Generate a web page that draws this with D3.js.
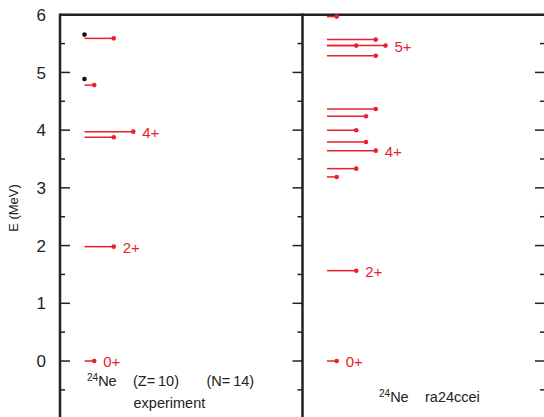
<!DOCTYPE html>
<html>
<head>
<meta charset="utf-8">
<title>24Ne levels</title>
<script src="https://cdnjs.cloudflare.com/ajax/libs/d3/7.8.5/d3.min.js"></script>
<style>
body { margin: 0; background: #fff; }
text { font-family: "Liberation Sans", Arial, sans-serif; }
</style>
</head>
<body>
<svg id="chart" width="544" height="417"></svg>
<script>
// experiment levels (MeV) and spins
var expE = [0, 1.981, 3.877, 3.974, 4.78, 5.59];
var expJ = [0, 2, 2, 4, 0, 2];
var expLabel = ["0+", "2+", "", "4+", "", ""];
// levels with unknown spin (black dots)
var expUnknownE = [4.887, 5.655];

// calculation ra24ccei
var thE = [0, 1.565, 3.189, 3.333, 3.645, 3.795, 3.998, 4.24, 4.367, 5.29, 5.465, 5.465, 5.569, 5.967];
var thJ = [0, 2, 0, 2, 4, 3, 2, 3, 4, 4, 2, 5, 4, 0];
var thLabel = ["0+", "2+", "", "", "4+", "", "", "", "", "", "", "5+", "", ""];

var yTicks = [0, 1, 2, 3, 4, 5, 6];
var yMinor = [-0.5, 0.5, 1.5, 2.5, 3.5, 4.5, 5.5];

var red = "#e8202b";
var svg = d3.select("#chart");

var y = d3.scaleLinear().domain([-0.97, 6]).range([417, 14.7]);
var panels = d3.scaleLinear().domain([0, 1]).range([60, 302.5]); // left edge of panel i
var len = d3.scaleLinear().domain([-1, 5]).range([0, 58.5]);     // level length from spin
var x0 = 24.5;

// ticks
function ticks(xpos, dir) {
    svg.append("g").selectAll("line.maj").data(yTicks).enter().append("line")
        .attr("x1", xpos).attr("x2", xpos + dir * 10)
        .attr("y1", function (d) { return y(d); }).attr("y2", function (d) { return y(d); })
        .attr("stroke", "#222").attr("stroke-width", 1.5);
    svg.append("g").selectAll("line.min").data(yMinor).enter().append("line")
        .attr("x1", xpos).attr("x2", xpos + dir * 5)
        .attr("y1", function (d) { return y(d); }).attr("y2", function (d) { return y(d); })
        .attr("stroke", "#222").attr("stroke-width", 1.5);
}
ticks(panels(0), 1);
ticks(panels(1), -1);
ticks(panels(2), -1);

// frame
svg.append("line").attr("x1", panels(0)).attr("x2", 544).attr("y1", y(6)).attr("y2", y(6))
    .attr("stroke", "#222").attr("stroke-width", 2.5);
[0, 1].forEach(function (i) {
    svg.append("line").attr("x1", panels(i)).attr("x2", panels(i))
        .attr("y1", y(6) - 1.2).attr("y2", 417)
        .attr("stroke", "#222").attr("stroke-width", 2.5);
});

// tick labels
svg.append("g").selectAll("text").data(yTicks).enter().append("text")
    .attr("x", 46).attr("y", function (d) { return y(d); })
    .attr("dy", "0.36em").attr("text-anchor", "end")
    .attr("font-size", 17).attr("fill", "#222")
    .text(function (d) { return d; });

svg.append("text")
    .attr("transform", "translate(18," + 208 + ") rotate(-90)")
    .attr("text-anchor", "middle").attr("font-size", 13).attr("fill", "#222")
    .text("E (MeV)");

function levels(E, J, labels, panel) {
    var left = panels(panel) + x0;
    var g = svg.append("g");
    g.selectAll("line").data(E).enter().append("line")
        .attr("x1", left)
        .attr("x2", function (d, i) { return left + len(J[i]); })
        .attr("y1", function (d) { return y(d); })
        .attr("y2", function (d) { return y(d); })
        .attr("stroke", red).attr("stroke-width", 1.5);
    g.selectAll("circle").data(E).enter().append("circle")
        .attr("cx", function (d, i) { return left + len(J[i]); })
        .attr("cy", function (d) { return y(d); })
        .attr("r", 2.3).attr("fill", red);
    g.selectAll("text").data(E).enter().append("text")
        .attr("x", function (d, i) { return left + len(J[i]) + 9; })
        .attr("y", function (d) { return y(d); })
        .attr("dy", "0.4em").attr("font-size", 15).attr("fill", red)
        .text(function (d, i) { return labels[i]; });
}
levels(expE, expJ, expLabel, 0);
levels(thE, thJ, thLabel, 1);

svg.append("g").selectAll("circle").data(expUnknownE).enter().append("circle")
    .attr("cx", panels(0) + x0).attr("cy", function (d) { return y(d); })
    .attr("r", 2.3).attr("fill", "#111");

// captions
var fs = 14.5;
function nucleus(xp, yp) {
    var t = svg.append("text").attr("x", xp).attr("y", yp).attr("font-size", fs).attr("fill", "#222");
    t.append("tspan").attr("font-size", 10).attr("dy", -5).text("24");
    t.append("tspan").attr("dy", 5).text("Ne");
}
nucleus(87, 386);
svg.append("text").attr("x", 133).attr("y", 386).attr("font-size", fs).attr("fill", "#222").text("(Z=\u200910)");
svg.append("text").attr("x", 206.5).attr("y", 386).attr("font-size", fs).attr("fill", "#222").text("(N=\u200914)");
svg.append("text").attr("x", 133.5).attr("y", 408).attr("font-size", fs).attr("fill", "#222").text("experiment");
nucleus(379, 402);
svg.append("text").attr("x", 425).attr("y", 402).attr("font-size", fs).attr("fill", "#222").text("ra24ccei");
</script>
</body>
</html>
